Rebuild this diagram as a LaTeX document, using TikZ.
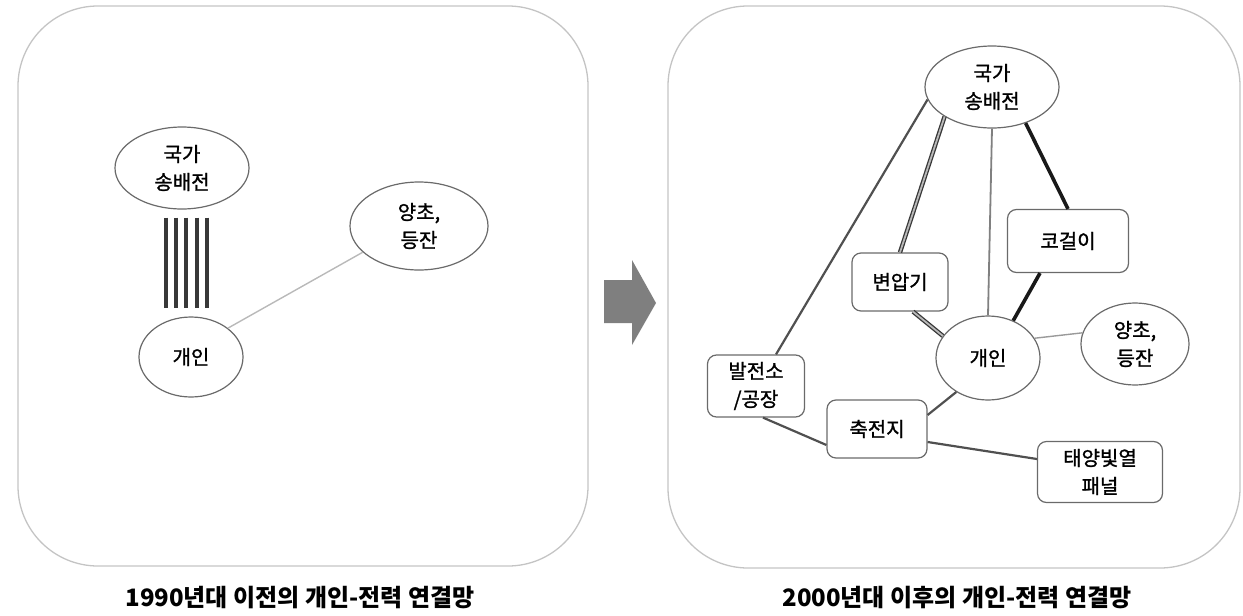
\documentclass[tikz,border=0pt]{standalone}
\usepackage{fontspec}
\setmainfont{Noto Sans CJK KR}
\newfontfamily\nodefont{Noto Sans CJK KR}[FakeBold=1.2]
\usetikzlibrary{shapes.geometric,calc}
\definecolor{bordergray}{HTML}{6A6A6A}
\definecolor{panelgray}{HTML}{C4C4C4}
\definecolor{thingray}{HTML}{9A9A9A}
\definecolor{midgray}{HTML}{505050}
\definecolor{bargray}{HTML}{383838}
\definecolor{arrowgray}{HTML}{7F7F7F}
\begin{document}
\begin{tikzpicture}[x=1pt,y=-1pt,
  panel/.style={draw=panelgray, line width=1.3pt, rounded corners=80pt},
  ell/.style={ellipse, draw=bordergray, line width=1.2pt, fill=white, inner sep=0pt, align=center, font=\nodefont\fontsize{20}{28}\selectfont},
  box/.style={rectangle, rounded corners=9pt, draw=bordergray, line width=1.2pt, fill=white, inner sep=0pt, align=center, font=\nodefont\fontsize{20}{28}\selectfont},
  thinline/.style={draw=thingray, line width=1.4pt},
  midline/.style={draw=midgray, line width=2.2pt},
  heavyline/.style={draw=black!90, line width=3.6pt},
  dblline/.style={draw=bargray, line width=1.3pt, double=gray!55, double distance=1.8pt},
  bar/.style={draw=bargray, line width=4.8pt},
  caption/.style={font=\fontsize{24}{28}\selectfont\bfseries}
]
\useasboundingbox (0,0) rectangle (1243,616);
% panels
\draw[panel] (18,6) rectangle (588,566);
\draw[panel] (668,6) rectangle (1240,568);

% ---------- left panel ----------
\node[ell, minimum width=134pt, minimum height=82pt] (La) at (182,168) {국가\\송배전};
\node[ell, minimum width=104pt, minimum height=80pt] (Lb) at (191,357) {개인};
\node[ell, minimum width=138pt, minimum height=88pt] (Lc) at (419,226) {양초,\\등잔};

\foreach \dx in {-16,-6,4,15,25}{
  \draw[bar] ($(La.south)+(\dx,8)$) -- ($(La.south)+(\dx,98)$);
}
\draw[thinline, draw=gray!55] (Lb.38) -- (Lc.205);

% arrow
\fill[arrowgray] (604,280) -- (632,280) -- (632,260) -- (656,303) -- (632,345) -- (632,323) -- (604,323) -- cycle;

% ---------- right panel ----------
\node[ell, minimum width=134pt, minimum height=82pt] (R) at (992,87) {국가\\송배전};
\node[box, minimum width=121pt, minimum height=63pt] (K) at (1068,241) {코걸이};
\node[box, minimum width=96pt, minimum height=58pt] (T) at (900,282) {변압기};
\node[ell, minimum width=104pt, minimum height=84pt] (I) at (988,358) {개인};
\node[ell, minimum width=108pt, minimum height=82pt] (Y) at (1135,344) {양초,\\등잔};
\node[box, minimum width=97pt, minimum height=62pt] (P) at (756,386) {발전소\\/공장};
\node[box, minimum width=100pt, minimum height=58pt] (C) at (877,429) {축전지};
\node[box, minimum width=125pt, minimum height=61pt] (S) at (1100,472) {태양빛열\\패널};

\draw[midline] (R.191) -- ([xshift=20pt]P.north);
\draw[dblline] (R.212) -- (T.north);
\draw[dblline] ([xshift=13pt]T.south) -- (I.154);
\draw[thinline, draw=gray, line width=1.8pt] (R.south) -- (I.north);
\draw[heavyline] (R.-47) -- (K.north);
\draw[heavyline] ([xshift=-28pt]K.south) -- (I.56);
\draw[thinline] (I.23) -- (Y.168);
\draw[midline] (I.227) -- ([yshift=14pt]C.east);
\draw[midline] ([xshift=7pt]P.south) -- ([yshift=-16pt]C.west);
\draw[midline] ([yshift=-13pt]C.east) -- ([yshift=13pt]S.west);

% captions
\node[caption] (cap1) at (300,598) {1990년대 이전의 개인-전력 연결망};
\node[caption] (cap2) at (957,598) {2000년대 이후의 개인-전력 연결망};
\end{tikzpicture}
\end{document}
